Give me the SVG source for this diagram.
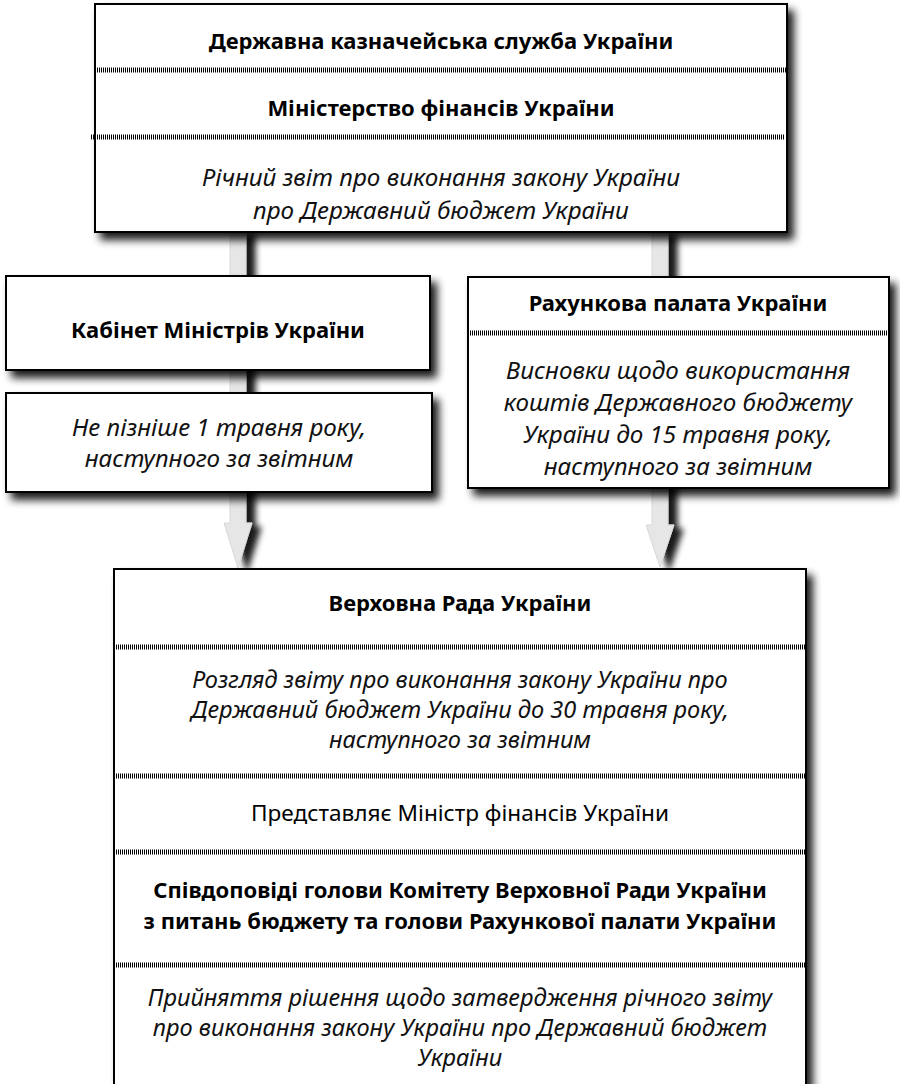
<svg xmlns="http://www.w3.org/2000/svg" width="900" height="1084" viewBox="0 0 900 1084">
<style>
.box{fill:#fff;stroke:#000;stroke-width:2}
.t{font-family:"Noto Sans","Open Sans","DejaVu Sans",sans-serif;font-size:22.6px;fill:#000;text-anchor:middle}
.b{font-weight:700;font-size:22px}
.i{font-style:italic;font-size:24.2px;fill:#111}
.i2{font-size:23.6px}
.div{stroke:#000;stroke-width:5;stroke-dasharray:1 1;fill:none}
.arr{fill:#e6e6e6;stroke:#d8d8d8;stroke-width:1}
</style>
<defs>
<filter id="sh" x="-10%" y="-10%" width="130%" height="140%">
<feGaussianBlur in="SourceAlpha" stdDeviation="4"/>
<feOffset dx="6" dy="7" result="o"/>
<feComponentTransfer><feFuncA type="linear" slope="0.9"/></feComponentTransfer>
<feMerge><feMergeNode/><feMergeNode in="SourceGraphic"/></feMerge>
</filter>
<filter id="ash" x="-50%" y="-10%" width="250%" height="130%">
<feGaussianBlur in="SourceAlpha" stdDeviation="3"/>
<feOffset dx="9" dy="4" result="o"/>
<feComponentTransfer><feFuncA type="linear" slope="0.9"/></feComponentTransfer>
<feMerge><feMergeNode/><feMergeNode in="SourceGraphic"/></feMerge>
</filter>
</defs>
<rect width="900" height="1084" fill="#fff"/>
<g id="connectors">
<polygon class="arr" filter="url(#ash)" points="230,230 246,230 246,523 252,523 238,568 224,523 230,523"/>
<polygon class="arr" filter="url(#ash)" points="652,230 668,230 668,525 674,525 660,567 646,525 652,525"/>
</g>
<g id="treasury">
<rect class="box" filter="url(#sh)" x="95" y="4" width="692" height="228"/>
<text class="t b" x="441" y="49">Державна казначейська служба України</text>
<line class="div" x1="95" y1="70" x2="787" y2="70"/>
<text class="t b" x="441" y="116">Міністерство фінансів України</text>
<line class="div" x1="91" y1="137" x2="785" y2="137"/>
<text class="t i" x="441" y="186">Річний звіт про виконання закону України</text>
<text class="t i" x="441" y="219">про Державний бюджет України</text>
</g>
<g id="cabinet">
<rect class="box" filter="url(#sh)" x="6" y="276" width="424" height="94"/>
<text class="t b" x="218" y="338">Кабінет Міністрів України</text>
</g>
<g id="cabinet-deadline">
<rect class="box" filter="url(#sh)" x="6" y="393" width="426" height="99"/>
<text class="t i" x="219" y="436">Не пізніше 1 травня року,</text>
<text class="t i" x="219" y="467">наступного за звітним</text>
</g>
<g id="audit">
<rect class="box" filter="url(#sh)" x="468" y="277" width="421" height="211"/>
<text class="t b" x="678" y="311">Рахункова палата України</text>
<line class="div" x1="468" y1="333" x2="889" y2="333"/>
<text class="t i" x="678" y="379">Висновки щодо використання</text>
<text class="t i" x="678" y="411">коштів Державного бюджету</text>
<text class="t i" x="678" y="443">України до 15 травня року,</text>
<text class="t i" x="678" y="475">наступного за звітним</text>
</g>
<g id="rada">
<rect class="box" filter="url(#sh)" x="114" y="569" width="692" height="530"/>
<text class="t b" x="460" y="611">Верховна Рада України</text>
<line class="div" x1="114" y1="647" x2="806" y2="647"/>
<text class="t i i2" x="460" y="688">Розгляд звіту про виконання закону України про</text>
<text class="t i i2" x="460" y="718">Державний бюджет України до 30 травня року,</text>
<text class="t i i2" x="460" y="748">наступного за звітним</text>
<line class="div" x1="114" y1="776" x2="806" y2="776"/>
<text class="t" x="460" y="821">Представляє Міністр фінансів України</text>
<line class="div" x1="114" y1="852" x2="806" y2="852"/>
<text class="t b" x="460" y="898">Співдоповіді голови Комітету Верховної Ради України</text>
<text class="t b" x="460" y="929">з питань бюджету та голови Рахункової палати України</text>
<line class="div" x1="114" y1="965" x2="806" y2="965"/>
<text class="t i i2" x="460" y="1006">Прийняття рішення щодо затвердження річного звіту</text>
<text class="t i i2" x="460" y="1036">про виконання закону України про Державний бюджет</text>
<text class="t i i2" x="460" y="1066">України</text>
</g>
</svg>
